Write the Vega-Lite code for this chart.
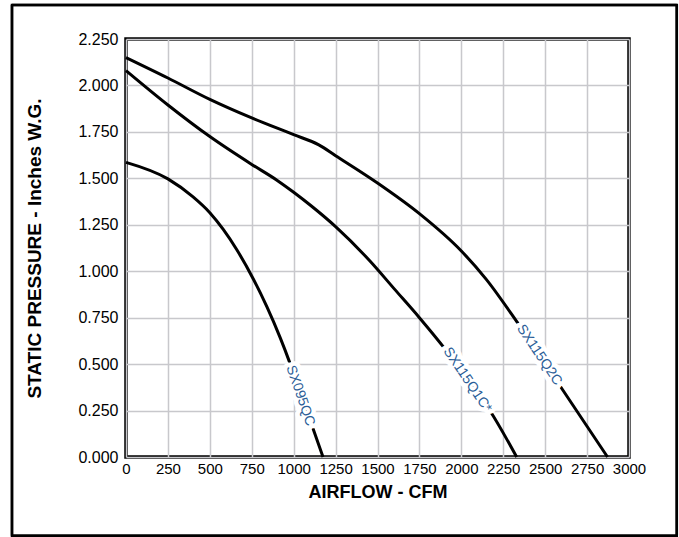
{
  "$schema": "https://vega.github.io/schema/vega-lite/v6.json",
  "width": 503,
  "height": 418,
  "autosize": {"type": "none"},
  "padding": {"left": 126, "top": 39, "right": 50, "bottom": 80},
  "background": "white",
  "config": {
    "view": {"stroke": "black", "strokeWidth": 3.5},
    "font": "Liberation Sans"
  },
  "datasets": {
    "curves": [
      {"model": "SX115Q2C", "cfm": 0, "sp": 2.15},
      {"model": "SX115Q2C", "cfm": 250, "sp": 2.04},
      {"model": "SX115Q2C", "cfm": 500, "sp": 1.925},
      {"model": "SX115Q2C", "cfm": 750, "sp": 1.825},
      {"model": "SX115Q2C", "cfm": 1000, "sp": 1.735},
      {"model": "SX115Q2C", "cfm": 1150, "sp": 1.68},
      {"model": "SX115Q2C", "cfm": 1250, "sp": 1.622},
      {"model": "SX115Q2C", "cfm": 1500, "sp": 1.475},
      {"model": "SX115Q2C", "cfm": 1750, "sp": 1.31},
      {"model": "SX115Q2C", "cfm": 2000, "sp": 1.109},
      {"model": "SX115Q2C", "cfm": 2150, "sp": 0.955},
      {"model": "SX115Q2C", "cfm": 2335, "sp": 0.723},
      {"model": "SX115Q2C", "cfm": 2595, "sp": 0.374},
      {"model": "SX115Q2C", "cfm": 2872, "sp": 0},
      {"model": "SX115Q1C*", "cfm": 0, "sp": 2.08},
      {"model": "SX115Q1C*", "cfm": 250, "sp": 1.895},
      {"model": "SX115Q1C*", "cfm": 500, "sp": 1.725},
      {"model": "SX115Q1C*", "cfm": 750, "sp": 1.575},
      {"model": "SX115Q1C*", "cfm": 900, "sp": 1.49},
      {"model": "SX115Q1C*", "cfm": 1000, "sp": 1.425},
      {"model": "SX115Q1C*", "cfm": 1100, "sp": 1.355},
      {"model": "SX115Q1C*", "cfm": 1250, "sp": 1.24},
      {"model": "SX115Q1C*", "cfm": 1455, "sp": 1.055},
      {"model": "SX115Q1C*", "cfm": 1600, "sp": 0.905},
      {"model": "SX115Q1C*", "cfm": 1750, "sp": 0.75},
      {"model": "SX115Q1C*", "cfm": 1900, "sp": 0.585},
      {"model": "SX115Q1C*", "cfm": 2050, "sp": 0.405},
      {"model": "SX115Q1C*", "cfm": 2170, "sp": 0.25},
      {"model": "SX115Q1C*", "cfm": 2330, "sp": 0},
      {"model": "SX095QC", "cfm": 0, "sp": 1.586},
      {"model": "SX095QC", "cfm": 250, "sp": 1.497},
      {"model": "SX095QC", "cfm": 400, "sp": 1.4},
      {"model": "SX095QC", "cfm": 500, "sp": 1.315},
      {"model": "SX095QC", "cfm": 580, "sp": 1.225},
      {"model": "SX095QC", "cfm": 660, "sp": 1.117},
      {"model": "SX095QC", "cfm": 760, "sp": 0.957},
      {"model": "SX095QC", "cfm": 840, "sp": 0.809},
      {"model": "SX095QC", "cfm": 920, "sp": 0.641},
      {"model": "SX095QC", "cfm": 975, "sp": 0.512},
      {"model": "SX095QC", "cfm": 1040, "sp": 0.346},
      {"model": "SX095QC", "cfm": 1107, "sp": 0.175},
      {"model": "SX095QC", "cfm": 1175, "sp": 0}
    ],
    "labels": [
      {"model": "SX095QC", "cfm": 1040, "sp": 0.33},
      {"model": "SX115Q1C*", "cfm": 2036, "sp": 0.415},
      {"model": "SX115Q2C", "cfm": 2465, "sp": 0.549}
    ]
  },
  "layer": [
    {
      "data": {"name": "curves"},
      "mark": {"type": "line", "color": "black", "strokeWidth": 3, "interpolate": "monotone"},
      "encoding": {
        "x": {
          "field": "cfm",
          "type": "quantitative",
          "scale": {"domain": [0, 3000], "nice": false, "zero": false},
          "axis": {
            "title": "AIRFLOW - CFM",
            "values": [0, 250, 500, 750, 1000, 1250, 1500, 1750, 2000, 2250, 2500, 2750, 3000],
            "format": "d",
            "domain": false,
            "ticks": false,
            "grid": true,
            "gridColor": "#c8c8cc",
            "gridWidth": 1.5,
            "gridOpacity": 1,
            "labelFont": "'Liberation Sans Narrow', 'Liberation Sans'",
            "labelFontSize": 15,
            "labelColor": "black",
            "labelPadding": 4,
            "labelFlush": false,
            "labelOverlap": false,
            "titleFont": "Liberation Sans",
            "titleFontWeight": "bold",
            "titleFontSize": 18,
            "titleColor": "black",
            "titlePadding": 7
          }
        },
        "y": {
          "field": "sp",
          "type": "quantitative",
          "scale": {"domain": [0, 2.25], "nice": false, "zero": false},
          "axis": {
            "title": "STATIC PRESSURE - Inches W.G.",
            "values": [0, 0.25, 0.5, 0.75, 1, 1.25, 1.5, 1.75, 2, 2.25],
            "format": ".3f",
            "domain": false,
            "ticks": false,
            "grid": true,
            "gridColor": "#c8c8cc",
            "gridWidth": 1.5,
            "gridOpacity": 1,
            "labelFont": "Liberation Sans",
            "labelFontSize": 16,
            "labelColor": "black",
            "labelPadding": 8,
            "labelFlush": false,
            "labelOverlap": false,
            "titleFont": "Liberation Sans",
            "titleFontWeight": "bold",
            "titleFontSize": 19,
            "titleColor": "black",
            "titlePadding": 33
          }
        },
        "detail": {"field": "model"}
      }
    },
    {
      "data": {"name": "labels"},
      "transform": [{"filter": "datum.model === 'SX095QC'"}],
      "mark": {"type": "text", "angle": 71, "fontSize": 14, "fill": "white", "stroke": "white", "strokeWidth": 9, "strokeJoin": "round", "align": "center", "baseline": "middle"},
      "encoding": {"x": {"field": "cfm", "type": "quantitative"}, "y": {"field": "sp", "type": "quantitative"}, "text": {"field": "model"}}
    },
    {
      "data": {"name": "labels"},
      "transform": [{"filter": "datum.model !== 'SX095QC'"}],
      "mark": {"type": "text", "angle": 56, "fontSize": 14, "fill": "white", "stroke": "white", "strokeWidth": 9, "strokeJoin": "round", "align": "center", "baseline": "middle"},
      "encoding": {"x": {"field": "cfm", "type": "quantitative"}, "y": {"field": "sp", "type": "quantitative"}, "text": {"field": "model"}}
    },
    {
      "data": {"name": "labels"},
      "transform": [{"filter": "datum.model === 'SX095QC'"}],
      "mark": {"type": "text", "angle": 71, "fontSize": 14, "color": "#2a5d97", "align": "center", "baseline": "middle"},
      "encoding": {"x": {"field": "cfm", "type": "quantitative"}, "y": {"field": "sp", "type": "quantitative"}, "text": {"field": "model"}}
    },
    {
      "data": {"name": "labels"},
      "transform": [{"filter": "datum.model !== 'SX095QC'"}],
      "mark": {"type": "text", "angle": 56, "fontSize": 14, "color": "#2a5d97", "align": "center", "baseline": "middle"},
      "encoding": {"x": {"field": "cfm", "type": "quantitative"}, "y": {"field": "sp", "type": "quantitative"}, "text": {"field": "model"}}
    },
    {
      "data": {"values": [{"frame": "outer"}]},
      "mark": {"type": "rect", "fill": "transparent", "stroke": "black", "strokeWidth": 2.5, "clip": false},
      "encoding": {
        "x": {"datum": -680, "type": "quantitative"},
        "x2": {"datum": 3285},
        "y": {"datum": 2.433, "type": "quantitative"},
        "y2": {"datum": -0.424}
      }
    },
    {
      "data": {"values": [{"frame": "outer"}]},
      "mark": {"type": "rule", "color": "black", "strokeWidth": 2.5},
      "encoding": {
        "x": {"datum": -680, "type": "quantitative"},
        "y": {"datum": 2.433, "type": "quantitative"},
        "y2": {"datum": -0.424}
      }
    },
    {
      "data": {"values": [{"frame": "outer"}]},
      "mark": {"type": "rule", "color": "black", "strokeWidth": 2.5},
      "encoding": {
        "x": {"datum": 3285, "type": "quantitative"},
        "y": {"datum": 2.433, "type": "quantitative"},
        "y2": {"datum": -0.424}
      }
    },
    {
      "data": {"values": [{"frame": "outer"}]},
      "mark": {"type": "rule", "color": "black", "strokeWidth": 2.5},
      "encoding": {
        "y": {"datum": 2.433, "type": "quantitative"},
        "x": {"datum": -680, "type": "quantitative"},
        "x2": {"datum": 3285}
      }
    },
    {
      "data": {"values": [{"frame": "outer"}]},
      "mark": {"type": "rule", "color": "black", "strokeWidth": 2.5},
      "encoding": {
        "y": {"datum": -0.424, "type": "quantitative"},
        "x": {"datum": -680, "type": "quantitative"},
        "x2": {"datum": 3285}
      }
    }
  ]
}
